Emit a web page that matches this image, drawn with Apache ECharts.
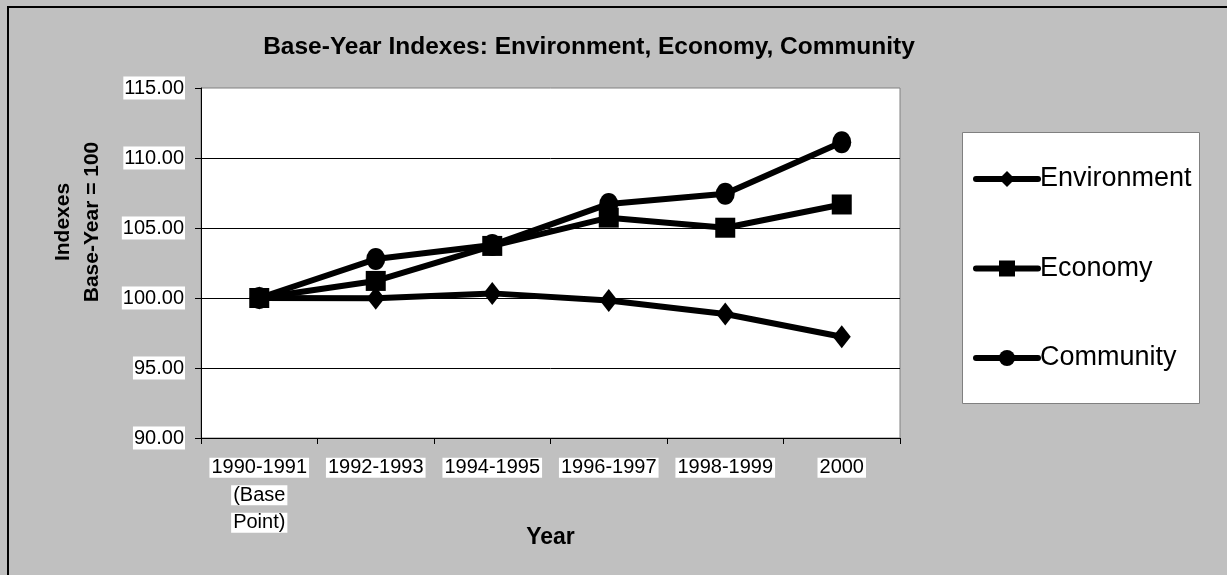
<!DOCTYPE html>
<html>
<head>
<meta charset="utf-8">
<script src="https://cdn.jsdelivr.net/npm/echarts@6/dist/echarts.min.js"></script>
<style>
html,body{margin:0;padding:0;background:#C0C0C0;}
#c{width:1227px;height:575px;}
</style>
</head>
<body>
<div id="c"></div>
<script>
const categories = ['1990-1991\n(Base\nPoint)', '1992-1993', '1994-1995', '1996-1997', '1998-1999', '2000'];
const environment = [100.00, 99.98, 100.33, 99.82, 98.86, 97.23];
const economy = [100.00, 101.22, 103.72, 105.74, 105.02, 106.68];
const community = [100.00, 102.78, 103.78, 106.72, 107.45, 111.12];
const yTicks = { min: 90, max: 115, interval: 5 };

const chart = echarts.init(document.getElementById('c'));
const font = 'Arial, "Liberation Sans", sans-serif';

function mkSeries(name, data, symbol, size) {
  return {
    name: name, type: 'line', data: data,
    symbol: symbol, symbolSize: size, showSymbol: true,
    lineStyle: { color: '#000', width: 6 },
    itemStyle: { color: '#000', borderWidth: 0 },
    emphasis: { disabled: true },
    animation: false, z: 3
  };
}

chart.setOption({
  backgroundColor: '#C0C0C0',
  animation: false,
  title: {
    text: 'Base-Year Indexes: Environment, Economy, Community',
    left: 584, top: 30, textAlign: 'center',
    textStyle: { fontFamily: font, fontSize: 24.5, fontWeight: 'bold', color: '#000' }
  },
  graphic: [
    { type: 'rect', shape: { x: 8, y: 7, width: 1222, height: 572 }, style: { fill: 'none', stroke: '#000', lineWidth: 2 }, z: 0 },
    { type: 'rect', shape: { x: 962.5, y: 132.5, width: 237, height: 271 }, style: { fill: '#fff', stroke: '#808080', lineWidth: 1 }, z: 1 },
    { type: 'text', x: 78, y: 222, rotation: Math.PI / 2, style: { text: 'Indexes\nBase-Year = 100', font: 'bold 21px ' + font, fill: '#000', align: 'center', verticalAlign: 'middle', lineHeight: 29 }, z: 5 }
  ],
  legend: {
    orient: 'vertical', left: 968, top: 160,
    itemWidth: 62, itemHeight: 20, itemGap: 61.5,
    data: ['Environment', 'Economy', 'Community'],
    lineStyle: { width: 6, color: '#000', cap: 'round' },
    itemStyle: { color: '#000' },
    textStyle: { fontFamily: font, fontSize: 27, color: '#000', padding: [0, 0, 0, -3], lineHeight: 28 },
    selectedMode: false, z: 6
  },
  grid: {
    left: 201, right: 327, top: 88, bottom: 137,
    show: true, backgroundColor: '#fff', borderColor: '#808080', borderWidth: 1
  },
  xAxis: {
    type: 'category', data: categories, boundaryGap: true,
    name: 'Year', nameLocation: 'middle', nameGap: 88, nameMoveOverlap: false,
    nameTextStyle: { fontFamily: font, fontSize: 23, fontWeight: 'bold', color: '#000' },
    axisLine: { lineStyle: { color: '#000', width: 1 } },
    axisTick: { show: true, length: 6, alignWithLabel: false, lineStyle: { color: '#000' } },
    axisLabel: {
      interval: 0, margin: 16, fontFamily: font, fontSize: 20, color: '#000',
      formatter: function (v) { return v.split('\n').map(function (s) { return '{a|' + s + '}'; }).join('\n'); },
      rich: { a: { fontFamily: font, fontSize: 20, color: '#000', backgroundColor: '#fff', lineHeight: 27.5, padding: [0, 2, 0, 2], borderColor: '#C0C0C0', borderWidth: 4 } }
    },
    splitLine: { show: false }
  },
  yAxis: {
    type: 'value', min: yTicks.min, max: yTicks.max, interval: yTicks.interval,
    axisLine: { show: true, lineStyle: { color: '#000', width: 1 } },
    axisTick: { show: true, length: 6, lineStyle: { color: '#000' } },
    axisLabel: {
      margin: 16, fontFamily: font, fontSize: 20, color: '#000',
      backgroundColor: '#fff', padding: [2, 1, 1, 1],
      formatter: function (v) { return v.toFixed(2); }
    },
    splitLine: { show: true, showMinLine: false, showMaxLine: false, lineStyle: { color: '#000', width: 1 } }
  },
  series: [
    mkSeries('Environment', environment, 'diamond', [18, 23]),
    mkSeries('Economy', economy, 'rect', 20),
    mkSeries('Community', community, 'circle', [19, 22])
  ]
});
</script>
</body>
</html>
